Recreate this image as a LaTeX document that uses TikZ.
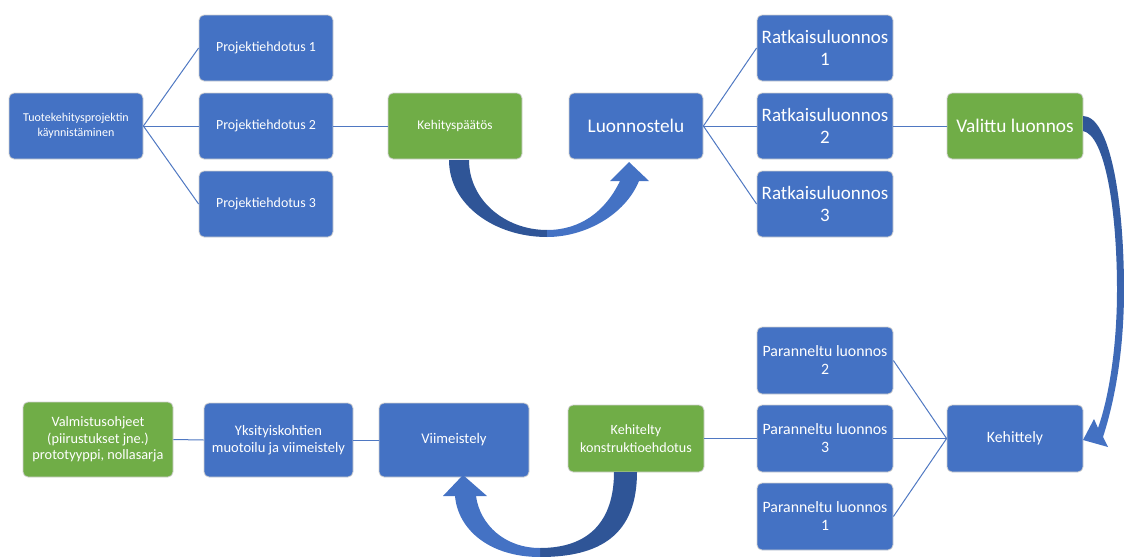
\documentclass[tikz,border=0pt]{standalone}
\usepackage{fontspec}
\setmainfont{Carlito}
\definecolor{boxblue}{HTML}{4472C4}
\definecolor{boxgreen}{HTML}{70AD47}
\definecolor{darkarrow}{HTML}{2F5597}
\definecolor{linecol}{HTML}{4F78C2}
\begin{document}
\begin{tikzpicture}[x=1pt,y=-1pt,
  box/.style={rectangle, rounded corners=5pt, draw=white!82!black, line width=0.8pt,
    fill=boxblue, text=white, align=center, inner sep=1pt,
    minimum width=134pt, minimum height=66pt},
  gbox/.style={box, fill=boxgreen},
  fs/.style 2 args={font=\fontsize{#1}{#2}\selectfont},
  conn/.style={draw=linecol, line width=1pt}]
\useasboundingbox (0,0) rectangle (1125,557);

% top row
\node[box,fs={12}{15.5}] (tk) at (76,126) {Tuotekehitysprojektin\\k\"aynnist\"aminen};
\node[box,fs={13.9}{16}] (p1) at (266,48) {Projektiehdotus 1};
\node[box,fs={13.9}{16}] (p2) at (266,126) {Projektiehdotus 2};
\node[box,fs={13.9}{16}] (p3) at (266,204) {Projektiehdotus 3};
\node[gbox,fs={13.3}{16}] (kp) at (455,126) {Kehitysp\"a\"at\"os};
\node[box,fs={19.3}{22}] (lu) at (636,126) {Luonnostelu};
\node[box,fs={19}{22},minimum width=136pt] (r1) at (825,48) {Ratkaisuluonnos\\1};
\node[box,fs={19}{22},minimum width=136pt] (r2) at (825,126) {Ratkaisuluonnos\\2};
\node[box,fs={19}{22},minimum width=136pt] (r3) at (825,204) {Ratkaisuluonnos\\3};
\node[gbox,fs={19.3}{22},minimum width=136pt] (vl) at (1015,126) {Valittu luonnos};

% bottom row
\node[gbox,fs={14.3}{16.5},minimum width=150pt,minimum height=75pt] (vo) at (98,439.5) {Valmistusohjeet\\(piirustukset jne.)\\prototyyppi, nollasarja};
\node[box,fs={14.5}{16.5},minimum width=149pt,minimum height=74pt] (yk) at (278.5,440) {Yksityiskohtien\\muotoilu ja viimeistely};
\node[box,fs={14.7}{17},minimum width=150pt,minimum height=74pt] (vi) at (454,440) {Viimeistely};
\node[gbox,fs={14.1}{17.5},minimum width=136pt,minimum height=67pt] (ke) at (636,438.5) {Kehitelty\\konstruktioehdotus};
\node[box,fs={15.8}{18},minimum width=136pt,minimum height=67pt] (pa2) at (825,360.5) {Paranneltu luonnos\\2};
\node[box,fs={15.8}{18},minimum width=136pt,minimum height=67pt] (pa3) at (825,438.5) {Paranneltu luonnos\\3};
\node[box,fs={15.8}{18},minimum width=136pt,minimum height=67pt] (pa1) at (825,516.5) {Paranneltu luonnos\\1};
\node[box,fs={15.8}{18},minimum width=136pt,minimum height=67pt] (kt) at (1015,438.5) {Kehittely};

% connectors
\draw[conn] (tk.east) -- (p1.west);
\draw[conn] (tk.east) -- (p2.west);
\draw[conn] (tk.east) -- (p3.west);
\draw[conn] (p2.east) -- (kp.west);
\draw[conn] (lu.east) -- (r1.west);
\draw[conn] (lu.east) -- (r2.west);
\draw[conn] (lu.east) -- (r3.west);
\draw[conn] (r2.east) -- (vl.west);
\draw[conn] (kt.west) -- (pa2.east);
\draw[conn] (kt.west) -- (pa3.east);
\draw[conn] (kt.west) -- (pa1.east);
\draw[conn] (pa3.west) -- (ke.east);
\draw[conn] (vi.west) -- (yk.east);
\draw[conn] (yk.west) -- (vo.east);

% curved arrow: Kehityspaatos -> Luonnostelu
\fill[darkarrow] (449,160) .. controls (449,205) and (495,237) .. (547,237)
  -- (547,230) .. controls (505,230) and (469,200) .. (469,160) -- cycle;
\fill[boxblue] (547,237) .. controls (585,237) and (625,215) .. (639,181)
  -- (649,181) -- (629,162) -- (610,181) -- (620,181)
  .. controls (605,212) and (580,230) .. (547,230) -- cycle;

% curved arrow: Kehitelty -> Viimeistely
\fill[darkarrow] (614,472) -- (637,472) .. controls (637,535) and (600,557) .. (540,557)
  -- (540,548) .. controls (590,548) and (614,520) .. (614,472) -- cycle;
\fill[boxblue] (540,557) .. controls (490,557) and (458,530) .. (455,496)
  -- (443,496) -- (463,475) -- (487,496) -- (476,496)
  .. controls (480,525) and (505,548) .. (540,548) -- cycle;

% curved arrow: Valittu luonnos -> Kehittely
\shade[top color=darkarrow, bottom color=boxblue]
  (1083,116) .. controls (1110,116) and (1124,200) .. (1124,290)
  .. controls (1124,350) and (1115,400) .. (1103,437)
  -- (1108,447) -- (1083,440) -- (1094,419) -- (1098,428)
  .. controls (1108,400) and (1117,350) .. (1117,290)
  .. controls (1117,210) and (1105,135) .. (1083,131) -- cycle;
\end{tikzpicture}
\end{document}
